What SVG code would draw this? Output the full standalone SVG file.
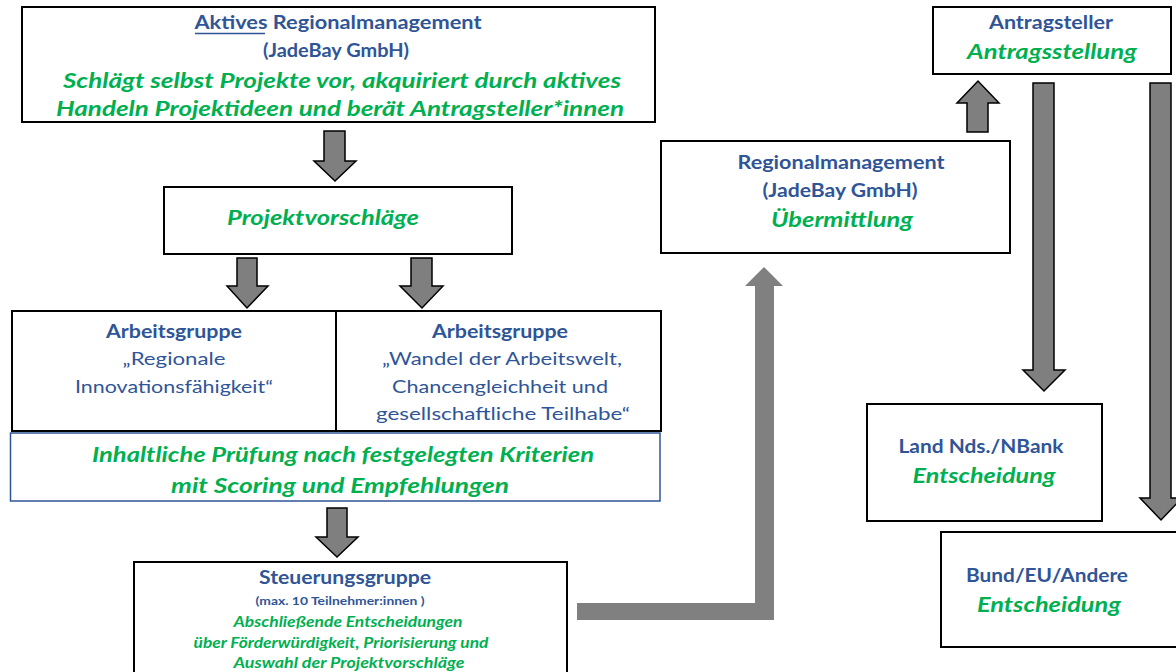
<svg xmlns="http://www.w3.org/2000/svg" width="1176" height="672" viewBox="0 0 1176 672">
<style>
text{font-family:Lato,"Liberation Sans",sans-serif;text-anchor:middle}
.b{font-weight:700;fill:#2F5597}
.r{font-weight:400;fill:#2F5597}
.g{font-weight:700;font-style:italic;fill:#00B050}
.box{fill:#fff;stroke:#000;stroke-width:2}
.arr{fill:#7F7F7F;stroke:#000;stroke-width:1.5;stroke-linejoin:miter}
</style>
<rect width="1176" height="672" fill="#fff"/>
<g id="connectors">
<path class="arr" d="M324 131H345V161H356L335 181L314 161H324Z"/>
<path class="arr" d="M237 258H257V286H268L247 308L227 286H237Z"/>
<path class="arr" d="M411 258H432V286H443L422 308L400 286H411Z"/>
<path class="arr" d="M327 508H347V537H358L337 557L316 537H327Z"/>
<path class="arr" d="M967 132V103H957L978 81L999 103H988V132Z"/>
<path class="arr" d="M1033 83H1054V370H1065L1044 391L1023 370H1033Z"/>
<path class="arr" d="M1150 83H1171V498H1182L1161 520L1140 498H1150Z"/>
<path fill="#808080" d="M577 603H755V286H745L764 267L783 286H774V620H577Z"/>
</g>
<g id="aktives">
<rect class="box" x="22" y="7" width="633" height="115"/>
<text class="b" x="338" y="29" font-size="19" textLength="287" lengthAdjust="spacingAndGlyphs">Aktives Regionalmanagement</text>
<line x1="195" y1="33.5" x2="265" y2="33.5" stroke="#2F5597" stroke-width="1.5"/>
<text class="b" x="336" y="57" font-size="19" textLength="146" lengthAdjust="spacingAndGlyphs">(JadeBay GmbH)</text>
<text class="g" x="342" y="88" font-size="20" textLength="558" lengthAdjust="spacingAndGlyphs">Schlägt selbst Projekte vor, akquiriert durch aktives</text>
<text class="g" x="340" y="116" font-size="20" textLength="568" lengthAdjust="spacingAndGlyphs">Handeln Projektideen und berät Antragsteller*innen</text>
</g>
<g id="projektvorschlaege">
<rect class="box" x="164" y="187" width="348" height="67"/>
<text class="g" x="323" y="225" font-size="21" textLength="192" lengthAdjust="spacingAndGlyphs">Projektvorschläge</text>
</g>
<g id="ag1">
<rect class="box" x="12" y="311" width="324" height="120"/>
<text class="b" x="174" y="338" font-size="18" textLength="136" lengthAdjust="spacingAndGlyphs">Arbeitsgruppe</text>
<text class="r" x="174" y="365" font-size="18" textLength="103" lengthAdjust="spacingAndGlyphs">„Regionale</text>
<text class="r" x="174" y="393" font-size="18" textLength="198" lengthAdjust="spacingAndGlyphs">Innovationsfähigkeit“</text>
</g>
<g id="ag2">
<rect class="box" x="336" y="311" width="325" height="120"/>
<text class="b" x="500" y="338" font-size="18" textLength="136" lengthAdjust="spacingAndGlyphs">Arbeitsgruppe</text>
<text class="r" x="502" y="365" font-size="18" textLength="240" lengthAdjust="spacingAndGlyphs">„Wandel der Arbeitswelt,</text>
<text class="r" x="500" y="393" font-size="18" textLength="216" lengthAdjust="spacingAndGlyphs">Chancengleichheit und</text>
<text class="r" x="503" y="420" font-size="18" textLength="254" lengthAdjust="spacingAndGlyphs">gesellschaftliche Teilhabe“</text>
</g>
<g id="pruefung">
<rect x="10.5" y="433" width="649.5" height="68" fill="#fff" stroke="#2F5597" stroke-width="1.5"/>
<text class="g" x="343" y="462" font-size="20" textLength="502" lengthAdjust="spacingAndGlyphs">Inhaltliche Prüfung nach festgelegten Kriterien</text>
<text class="g" x="340" y="493" font-size="20" textLength="338" lengthAdjust="spacingAndGlyphs">mit Scoring und Empfehlungen</text>
</g>
<g id="steuerungsgruppe">
<rect class="box" x="134" y="562" width="433" height="120"/>
<text class="b" x="345" y="584" font-size="18" textLength="172" lengthAdjust="spacingAndGlyphs">Steuerungsgruppe</text>
<text class="b" x="340" y="605" font-size="11.5" textLength="169" lengthAdjust="spacingAndGlyphs">(max. 10 Teilnehmer:innen )</text>
<text class="g" x="348" y="627" font-size="15" textLength="229" lengthAdjust="spacingAndGlyphs">Abschließende Entscheidungen</text>
<text class="g" x="341" y="648" font-size="15" textLength="295" lengthAdjust="spacingAndGlyphs">über Förderwürdigkeit, Priorisierung und</text>
<text class="g" x="349" y="668" font-size="15" textLength="231" lengthAdjust="spacingAndGlyphs">Auswahl der Projektvorschläge</text>
</g>
<g id="regionalmanagement">
<rect class="box" x="661" y="141" width="349" height="112"/>
<text class="b" x="841" y="169" font-size="19" textLength="207" lengthAdjust="spacingAndGlyphs">Regionalmanagement</text>
<text class="b" x="840" y="197" font-size="19" textLength="155" lengthAdjust="spacingAndGlyphs">(JadeBay GmbH)</text>
<text class="g" x="842" y="227" font-size="21" textLength="142" lengthAdjust="spacingAndGlyphs">Übermittlung</text>
</g>
<g id="antragsteller">
<rect class="box" x="933" y="7" width="238" height="67"/>
<text class="b" x="1051" y="29" font-size="18" textLength="124" lengthAdjust="spacingAndGlyphs">Antragsteller</text>
<text class="g" x="1052" y="59" font-size="21" textLength="170" lengthAdjust="spacingAndGlyphs">Antragsstellung</text>
</g>
<g id="land">
<rect class="box" x="867" y="404" width="235" height="117"/>
<text class="b" x="981" y="453" font-size="18" textLength="165" lengthAdjust="spacingAndGlyphs">Land Nds./NBank</text>
<text class="g" x="984" y="483" font-size="21" textLength="143" lengthAdjust="spacingAndGlyphs">Entscheidung</text>
</g>
<g id="bund">
<rect class="box" x="941" y="532" width="240" height="115"/>
<text class="b" x="1047" y="582" font-size="18" textLength="162" lengthAdjust="spacingAndGlyphs">Bund/EU/Andere</text>
<text class="g" x="1049" y="612" font-size="21" textLength="144" lengthAdjust="spacingAndGlyphs">Entscheidung</text>
</g>
</svg>
